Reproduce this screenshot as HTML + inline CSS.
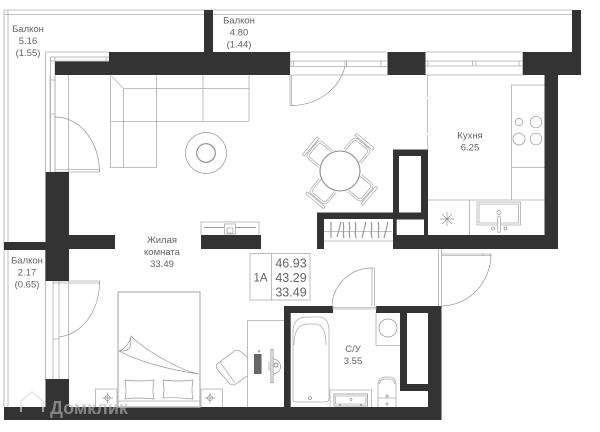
<!DOCTYPE html>
<html><head><meta charset="utf-8"><style>
html,body{margin:0;padding:0;background:#fff}
svg{display:block}
text{font-family:"Liberation Sans",sans-serif;font-size:9.5px;fill:#636363;text-anchor:middle}
.l{fill:none;stroke:#adadad;stroke-width:.8}
.m{fill:none;stroke:#959595;stroke-width:.7}
.w{fill:#333}
</style></head><body>
<svg width="600" height="432" viewBox="0 0 600 432" xmlns="http://www.w3.org/2000/svg">
<!-- balcony outlines -->
<path class="l" d="M4 10H572M4 14.500H572M4 10V407M8 10V407M45.500 52V172M45.500 250V380M45.500 52H109"/>
<path class="l" d="M50.500 57V172M55 57V172M50.500 57H109M50.500 61H109M106 57V61"/>
<!-- window / door frames -->
<path class="l" d="M50 75.500V172M55 75V172M50 80H55M50 114H55M68.500 75V172"/>
<path class="l" d="M55 172H99.500V169.500H55"/>
<path class="m" d="M55 117A44 55 0 0 1 99.500 172"/>
<path class="l" d="M53 281V379M59 281V379M53 339H59M68.500 281V379M53 281H99.500V283H53"/>
<path class="m" d="M99.500 281A44 55 0 0 1 59 337"/>
<path class="l" d="M290 52V61H387M290 66.500H387M290 75H387M290 52H387M291 61V66.500M293.500 61V66.500M345 61V66.500M346.500 61V66.500M381 61V66.500"/>
<path class="l" d="M290 75V105.500H293M290 105.500H294M291.500 75V105.500"/>
<path class="m" d="M292 105.500A55 50 0 0 0 345 66.500"/>
<path class="l" d="M425.500 52H522.700M425.500 61H522.700M425.500 66H522.700M425.500 75H522.700M428 61V66M472.500 61V66M476 61V66M519 61V66"/>
<path d="M427.500 75V149" stroke="#b5b5b5" stroke-width=".8" stroke-dasharray="22 2 34 2" fill="none"/>
<!-- sofa -->
<path class="l" d="M110.500 75.500V167.500H156.500V121.500H247A2 2 0 0 0 249 119.500V75.500M123.500 88.500V167.500M110.500 121.500H156.500M156.500 75.500V121.500M203 75.500V121.500M123.500 88.500H249M111.500 76L123.500 88.500"/>
<circle class="m" cx="206" cy="153" r="20.500"/>
<circle cx="206" cy="153" r="9.300" fill="none" stroke="#8a8a8a" stroke-width="1.100"/>
<!-- dining -->
<g fill="none" stroke="#a8a8a8" stroke-width=".7">
<g transform="translate(340 171)">
<g transform="rotate(40)"><path d="M-9 -19V-31A3 3 0 0 1 -6 -34H6A3 3 0 0 1 9 -31V-19M-11 -19V-32A4 4 0 0 1 -7 -36H7A4 4 0 0 1 11 -32V-19M-11.500 -37H11.500V-39.500H-11.500Z"/></g>
<g transform="rotate(130)"><path d="M-9 -19V-31A3 3 0 0 1 -6 -34H6A3 3 0 0 1 9 -31V-19M-11 -19V-32A4 4 0 0 1 -7 -36H7A4 4 0 0 1 11 -32V-19M-11.500 -37H11.500V-39.500H-11.500Z"/></g>
<g transform="rotate(220)"><path d="M-9 -19V-31A3 3 0 0 1 -6 -34H6A3 3 0 0 1 9 -31V-19M-11 -19V-32A4 4 0 0 1 -7 -36H7A4 4 0 0 1 11 -32V-19M-11.500 -37H11.500V-39.500H-11.500Z"/></g>
<g transform="rotate(310)"><path d="M-9 -19V-31A3 3 0 0 1 -6 -34H6A3 3 0 0 1 9 -31V-19M-11 -19V-32A4 4 0 0 1 -7 -36H7A4 4 0 0 1 11 -32V-19M-11.500 -37H11.500V-39.500H-11.500Z"/></g>
</g></g>
<circle cx="340" cy="171" r="20" fill="#fff" stroke="#8d8d8d" stroke-width="1.100"/>
<!-- kitchen -->
<path class="l" d="M544.500 85H511.500V200M511.500 167.500H544.500M428 200H544.500M469.500 200V235.500"/>
<circle class="m" cx="519" cy="122" r="3.600"/><circle class="m" cx="536" cy="122" r="5.800"/>
<circle class="m" cx="519" cy="139" r="6"/><circle class="m" cx="536" cy="139" r="5.800"/>
<path class="l" d="M477 202H520.500V225H477ZM479 204H518.500V223H479Z"/>
<path d="M499 217.500V231" stroke="#aaa" stroke-width="3.500" stroke-linecap="round"/><path d="M499 217.500V231" stroke="#fff" stroke-width="2" stroke-linecap="round"/>
<circle class="m" cx="499" cy="212.500" r="2"/><circle class="m" cx="493" cy="228.500" r="1.500"/><circle class="m" cx="505.500" cy="228.500" r="1.500"/>
<path class="m" d="M440 219H454M447 212V226M442 214L452 224M452 214L442 224"/>
<!-- closet -->
<path class="l" d="M324 231.500H392M324 241H393"/>
<g fill="none" stroke="#999" stroke-width="1.200">
<path d="M331 222V238M337 237L341 222M343 222C345 228 342 232 344 238M349 222C351 228 348 232 350 238M355 222C357 228 354 232 356 238M362 238L366 222M371 222C373 228 370 232 372 238M378 222C380 228 377 232 379 238M384 238L388 222"/>
</g>
<!-- walls -->
<g class="w">
<rect x="204" y="10" width="9" height="43"/>
<rect x="109" y="52" width="181" height="23"/>
<rect x="55" y="61.500" width="55" height="13.500"/>
<rect x="45.500" y="172" width="23.500" height="109"/>
<rect x="4" y="242" width="42" height="8"/>
<rect x="69" y="235" width="46" height="14"/>
<rect x="45.500" y="379" width="23.500" height="30"/>
<rect x="4" y="407" width="437.500" height="13"/>
<rect x="201" y="235" width="60" height="14"/>
<rect x="387.500" y="52" width="38" height="23"/>
<rect x="522.700" y="52" width="58.300" height="23"/>
<rect x="572" y="10" width="9" height="43"/>
<rect x="544.500" y="75" width="13.500" height="174"/>
<rect x="393" y="235" width="165" height="14"/>
<path fill-rule="evenodd" d="M393 149.500H428V235H393ZM399 156V212.500H421V156ZM396.700 219.500V235H424V219.500Z"/>
<rect x="317" y="212.500" width="77" height="6.500"/>
<rect x="317" y="212.500" width="7" height="36.500"/>
<path d="M284 306H333V313H290.700V407H284Z"/>
<path fill-rule="evenodd" d="M376 306H441.500V420H428V391H400V313H376ZM407 313V384H428V313Z"/>
</g>
<!-- TV -->
<path class="l" d="M201 235V222H259V235"/>
<path d="M204 227.500H256" stroke="#999" stroke-width="1"/>
<rect x="224.500" y="224" width="11" height="10" fill="#fff" stroke="#aaa" stroke-width=".8"/><rect x="227" y="228" width="6" height="5" fill="none" stroke="#aaa" stroke-width=".8"/>
<!-- bed -->
<rect x="118" y="292" width="82" height="115" fill="#fff" stroke="#bdbdbd" stroke-width="1.400"/>
<path class="m" d="M119 351C125 349 130 342 131 336C147 352 180 370 199 374C170 370 140 362 119 351ZM131 336C130 342 134 352 119 351"/>
<path class="l" d="M118 401H200"/>
<path class="m" d="M125 380Q138 382 154 380Q152 391 154 399Q138 397 125 399Q127 390 125 380ZM163 380Q177 382 193 380Q191 391 193 399Q177 397 163 398Q165 390 163 380Z"/>
<path class="l" d="M95.500 407V389H117V407M201 407V389H222.500V407"/>
<circle class="m" cx="107.500" cy="398" r="2.500"/><path class="m" d="M102 398H113M107.500 392.500V403.500"/>
<circle class="m" cx="210" cy="398" r="2.500"/><path class="m" d="M204.500 398H215.500M210 392.500V403.500"/>
<!-- desk -->
<path class="l" d="M247.500 407V320.500H284"/>
<path class="m" d="M247 357L240 351Q236 349 233 352L217 364Q215 367 218 370L230 384Q233 386 236 384L247 376"/>
<path class="l" d="M220 362L235 383"/>
<rect x="254" y="354" width="7.500" height="20" fill="#666"/>
<circle cx="259" cy="351" r="1" fill="none" stroke="#888" stroke-width=".6"/>
<path d="M272 349V383" stroke="#999" stroke-width="3"/><path d="M272 350V382" stroke="#fff" stroke-width="1.200"/>
<path class="m" d="M273 359A7.500 7.500 0 0 1 273 374M269 362V371"/>
<circle cx="276" cy="365" r="2" fill="none" stroke="#777" stroke-width=".8"/>
<!-- info box -->
<rect x="250" y="253.500" width="60" height="46.500" fill="#fff" stroke="#b5b5b5" stroke-width=".9"/>
<path d="M271.500 253.500V300" stroke="#b5b5b5" stroke-width=".9"/>
<text x="260.500" y="281.500" style="font-size:11.500px">1А</text>
<text x="291" y="267.500" style="font-size:12.500px">46.93</text>
<text x="291" y="282" style="font-size:12.500px">43.29</text>
<text x="291" y="296.500" style="font-size:12.500px">33.49</text>
<!-- doors lower -->
<path class="l" d="M333 306V309H376V306M333 307.500H376M372 268V306M374.500 268V306M372 268H374.500"/>
<path class="m" d="M372 268A40 39 0 0 0 332 306"/>
<path class="l" d="M438.500 249V306M441.500 249V306M441 254H491M441 255.500H491V254M483 254V256"/>
<path class="m" d="M491 254A50 52 0 0 1 441.500 306"/>
<!-- bath -->
<path class="l" d="M293 400V330Q294 317 307 317H319Q329 317 329 332V398Q329 402 326 402H296Q293 402 293 400ZM294 345Q294 324 308 324H315Q326 324 326 345"/>
<circle class="m" cx="310" cy="398" r="1.500"/>
<path class="l" d="M330 407V390H371.500V407"/>
<rect x="334" y="394" width="33.500" height="12" fill="none" stroke="#aaa" stroke-width="1"/><rect x="335.500" y="396" width="30.500" height="8" fill="#fff" stroke="#aaa" stroke-width=".7"/>
<circle class="m" cx="351" cy="399.500" r="1"/>
<circle cx="340" cy="405" r=".8" fill="#777"/><circle cx="361" cy="405" r=".8" fill="#777"/>
<path class="l" d="M376 313V345.500H400M376 345V313"/>
<circle class="m" cx="388" cy="328" r="9"/>
<path class="l" d="M378 407V386Q378 377 386 377H390Q396 377 396 386V407M378 398H396M379.500 384Q380 379 386 379H390Q394 379 394.500 384"/>
<circle class="m" cx="387" cy="396" r="1.200"/><path class="m" d="M385 404H389M387 402V406"/>
<!-- labels -->
<text x="28" y="32">Балкон</text><text x="28" y="44">5.16</text><text x="28" y="56">(1.55)</text>
<text x="239" y="23.500">Балкон</text><text x="239" y="35.500">4.80</text><text x="239" y="47.500">(1.44)</text>
<text x="27" y="263.500">Балкон</text><text x="27" y="275.500">2.17</text><text x="27" y="287.500">(0.65)</text>
<text x="470" y="138.500">Кухня</text><text x="470" y="150.500">6.25</text>
<text x="162" y="243">Жилая</text><text x="162" y="255">комната</text><text x="162" y="267">33.49</text>
<text x="353" y="352">С/У</text><text x="353" y="364">3.55</text>
<!-- watermark -->
<g opacity=".6">
<path d="M21 412V401L32 392L43 401V412" fill="none" stroke="#ddd" stroke-width="2"/>
<text x="89" y="414" style="font-size:18px;font-weight:bold;fill:#bbb">Домклик</text>
</g>
</svg>
</body></html>
